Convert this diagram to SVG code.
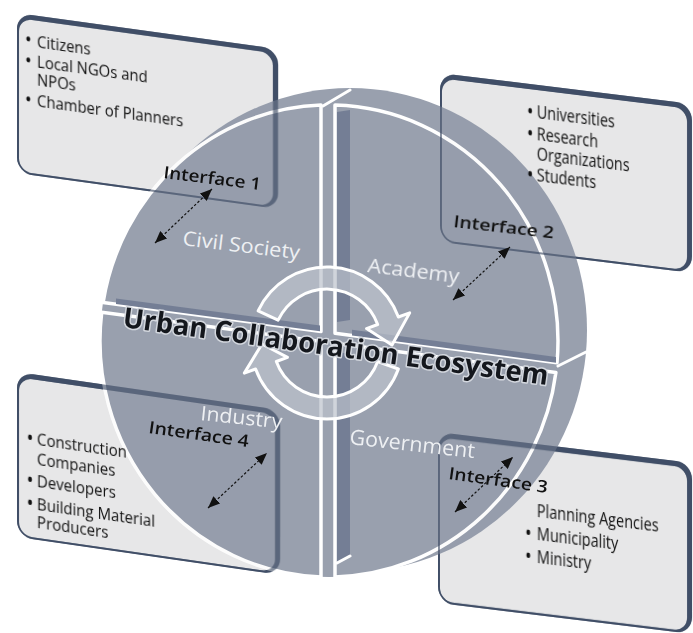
<svg xmlns="http://www.w3.org/2000/svg" xmlns:xlink="http://www.w3.org/1999/xlink" width="693" height="633" viewBox="0 0 693 633">
<style>
.bdark{fill:#44536b}
.blight{fill:#e7e7e8}
.frame{fill:#3f4c64;fill-rule:evenodd}
.face{fill:#8e96a6;stroke:#fff;stroke-width:3.5;stroke-linejoin:round}
.side{fill:#8e96a6}
.strip{fill:#66718a}
.seam{stroke:#fff;stroke-width:3;fill:none;stroke-linecap:round}
.btxt{font-family:"Open Sans","Noto Sans",sans-serif;font-size:17px;fill:#111}
.bul{font-size:21px}
.qlab{font-family:"Open Sans","Noto Sans",sans-serif;font-size:20px;fill:#eef0f3}
.ilab{font-family:"Open Sans","Noto Sans",sans-serif;font-size:17px;font-weight:600;fill:#111}
.title{font-family:"Open Sans","Noto Sans",sans-serif;font-size:28px;font-weight:700;fill:#14171d;stroke:#d3d7de;stroke-width:3;paint-order:stroke;stroke-linejoin:round}
.dash{stroke:#111;stroke-width:1.2;stroke-dasharray:2.5 2;fill:none;marker-start:url(#ah);marker-end:url(#ah)}
.cyc{fill:#bcc2cc;fill-opacity:.7;stroke:#fff;stroke-width:3;stroke-linejoin:round}
</style>
<defs>
<path id="boxOuter" d="M16,0 H244 A16,16 0 0 1 260,16 V149 A16,16 0 0 1 244,165 H16 A16,16 0 0 1 0,149 V16 A16,16 0 0 1 16,0 Z"/>
<path id="boxInner" d="M15,5 H242 A13,13 0 0 1 255,18 V150 A13,13 0 0 1 242,163 H15 A13,13 0 0 1 2,150 V18 A13,13 0 0 1 15,5 Z"/>
<path id="boxFrame" d="M16,0 H244 A16,16 0 0 1 260,16 V149 A16,16 0 0 1 244,165 H16 A16,16 0 0 1 0,149 V16 A16,16 0 0 1 16,0 Z M15,5 H242 A13,13 0 0 1 255,18 V150 A13,13 0 0 1 242,163 H15 A13,13 0 0 1 2,150 V18 A13,13 0 0 1 15,5 Z"/>
<marker id="ah" viewBox="0 0 12 10" refX="12" refY="5" markerWidth="12" markerHeight="10" markerUnits="userSpaceOnUse" orient="auto-start-reverse">
<path d="M0,0 L12,5 L0,10 Z" fill="#111"/>
</marker>
</defs>
<rect width="693" height="633" fill="#fff"/>

<g id="box1" transform="matrix(1.004,0.1385,0,0.97,17,13)">
<use xlink:href="#boxOuter" class="bdark"/>
<use xlink:href="#boxInner" class="blight"/>
</g>
<g id="box2" transform="matrix(0.969,0.119,0,1.024,440,73)">
<use xlink:href="#boxOuter" class="bdark"/>
<use xlink:href="#boxInner" class="blight"/>
</g>
<g id="box3" transform="matrix(0.977,0.119,0,1.036,438,432)">
<use xlink:href="#boxOuter" class="bdark"/>
<use xlink:href="#boxInner" class="blight"/>
</g>
<g id="box4" transform="matrix(1.012,0.146,0,1,17,372)">
<use xlink:href="#boxOuter" class="bdark"/>
<use xlink:href="#boxInner" class="blight"/>
</g>

<g id="disc" opacity="0.9">
<ellipse class="side" cx="350" cy="330" rx="237" ry="242"/>
<ellipse class="side" cx="329" cy="341" rx="229" ry="236"/>
<path id="q-civil" class="face" d="M321,105.1 A229,236 0 0 0 103.1,302.4 L321,331.4 Z"/>
<path id="q-academy" class="face" d="M335,105.1 A229,236 0 0 1 557,362.8 L335,333.3 Z"/>
<path id="q-industry" class="face" d="M101.7,312.2 A229,236 0 0 0 321,576.9 L321,341.4 Z"/>
<path id="q-government" class="face" d="M335,343.3 L555.9,372.6 A229,236 0 0 1 335,576.9 Z"/>
<polygon class="strip" points="337,112 350,110 350,320 337,322"/>
<polygon class="strip" points="337,352 350,354 350,556 337,563"/>
<polygon class="strip" points="116,298.4 320,325.5 320,331.2 116,304.1"/>
<polygon class="strip" points="352,329.8 556,356.9 556,362.7 352,335.5"/>
<path class="seam" d="M323,106 L350,90 M558,366 L586,352 M337,563 L350,556"/>
</g>

<g id="frames-through" opacity="0.6">
<use xlink:href="#boxFrame" class="frame" transform="matrix(1.004,0.1385,0,0.97,17,13)"/>
<use xlink:href="#boxFrame" class="frame" transform="matrix(0.969,0.119,0,1.024,440,73)"/>
<use xlink:href="#boxFrame" class="frame" transform="matrix(0.977,0.119,0,1.036,438,432)"/>
<use xlink:href="#boxFrame" class="frame" transform="matrix(1.012,0.146,0,1,17,372)"/>
</g>

<g id="box1-text" transform="matrix(1.004,0.1385,0,0.97,17,13)">
<g transform="scale(0.87,1)" class="btxt">
<text><tspan class="bul" x="9" y="33">•</tspan><tspan x="23" y="32.2">Citizens</tspan></text>
<text><tspan class="bul" x="9" y="54.6">•</tspan><tspan x="23" y="53.8">Local NGOs and</tspan></text>
<text x="23" y="71.4">NPOs</text>
<text><tspan class="bul" x="9" y="94.8">•</tspan><tspan x="23" y="94">Chamber of Planners</tspan></text>
</g>
</g>
<g id="box2-text" transform="matrix(0.969,0.119,0,1.024,440,73)">
<g transform="scale(0.87,1)" class="btxt">
<text><tspan class="bul" x="103" y="33.1">•</tspan><tspan x="114.9" y="32.3">Universities</tspan></text>
<text><tspan class="bul" x="103" y="54.6">•</tspan><tspan x="114.9" y="53.8">Research</tspan></text>
<text x="114.9" y="73.3">Organizations</text>
<text><tspan class="bul" x="103" y="94.6">•</tspan><tspan x="114.9" y="93.8">Students</tspan></text>
</g>
</g>
<g id="box3-text" transform="matrix(0.977,0.119,0,1.036,438,432)">
<g transform="scale(0.87,1)" class="btxt">
<text x="116.4" y="70.4">Planning Agencies</text>
<text><tspan class="bul" x="102.3" y="93.4">•</tspan><tspan x="116.4" y="92.6">Municipality</tspan></text>
<text><tspan class="bul" x="102.3" y="115.6">•</tspan><tspan x="116.4" y="114.8">Ministry</tspan></text>
</g>
</g>
<g id="box4-text" transform="matrix(1.012,0.146,0,1,17,372)">
<g transform="scale(0.87,1)" class="btxt">
<text><tspan class="bul" x="10.8" y="70.9">•</tspan><tspan x="22.8" y="70.1">Construction</tspan></text>
<text x="22.8" y="90.1">Companies</text>
<text><tspan class="bul" x="10.8" y="112.9">•</tspan><tspan x="22.8" y="112.1">Developers</tspan></text>
<text><tspan class="bul" x="10.8" y="135.9">•</tspan><tspan x="22.8" y="135.1">Building Material</tspan></text>
<text x="22.8" y="153.1">Producers</text>
</g>
</g>

<g id="quadrant-labels" class="qlab">
<text x="182" y="245" transform="rotate(7 182 245)" textLength="118" lengthAdjust="spacingAndGlyphs">Civil Society</text>
<text x="367" y="272" transform="rotate(7 367 272)" textLength="92" lengthAdjust="spacingAndGlyphs">Academy</text>
<text x="200" y="420" transform="rotate(6 200 420)" textLength="82" lengthAdjust="spacingAndGlyphs">Industry</text>
<text x="349" y="444" transform="rotate(6.4 349 444)" textLength="126" lengthAdjust="spacingAndGlyphs" font-size="21">Government</text>
</g>

<g id="cycle">
<path class="cyc" d="M258.1,310.9 A76,76 0 0 1 398.4,317 L409.7,312.9 L392,345 L366.5,328.6 L377.7,324.5 A54,54 0 0 0 278.1,320.2 Z"/>
<path class="cyc" d="M398.4,369 A76,76 0 0 1 255.6,369 L244.3,373.1 L262,344 L287.5,357.4 L276.3,361.5 A54,54 0 0 0 377.7,361.5 Z"/>
</g>

<g id="connectors">
<line class="dash" x1="155" y1="243" x2="212" y2="189"/>
<line class="dash" x1="453" y1="300" x2="510" y2="247"/>
<line class="dash" x1="455" y1="512" x2="513" y2="457"/>
<line class="dash" x1="208" y1="508" x2="267" y2="453"/>
</g>

<g id="interface-labels" class="ilab">
<text id="if1" x="163" y="178" transform="rotate(7 163 178)" textLength="98" lengthAdjust="spacingAndGlyphs">Interface 1</text>
<text id="if2" x="453" y="227" transform="rotate(6.5 453 227)" textLength="101" lengthAdjust="spacingAndGlyphs">Interface 2</text>
<text id="if3" x="448" y="479" transform="rotate(8 448 479)" textLength="100" lengthAdjust="spacingAndGlyphs">Interface 3</text>
<text id="if4" x="148" y="433" transform="rotate(8 148 433)" textLength="101" lengthAdjust="spacingAndGlyphs">Interface 4</text>
</g>

<g id="title">
<text class="title" x="122" y="327" transform="rotate(7.8 122 327)" textLength="429" lengthAdjust="spacingAndGlyphs">Urban Collaboration Ecosystem</text>
</g>
</svg>
